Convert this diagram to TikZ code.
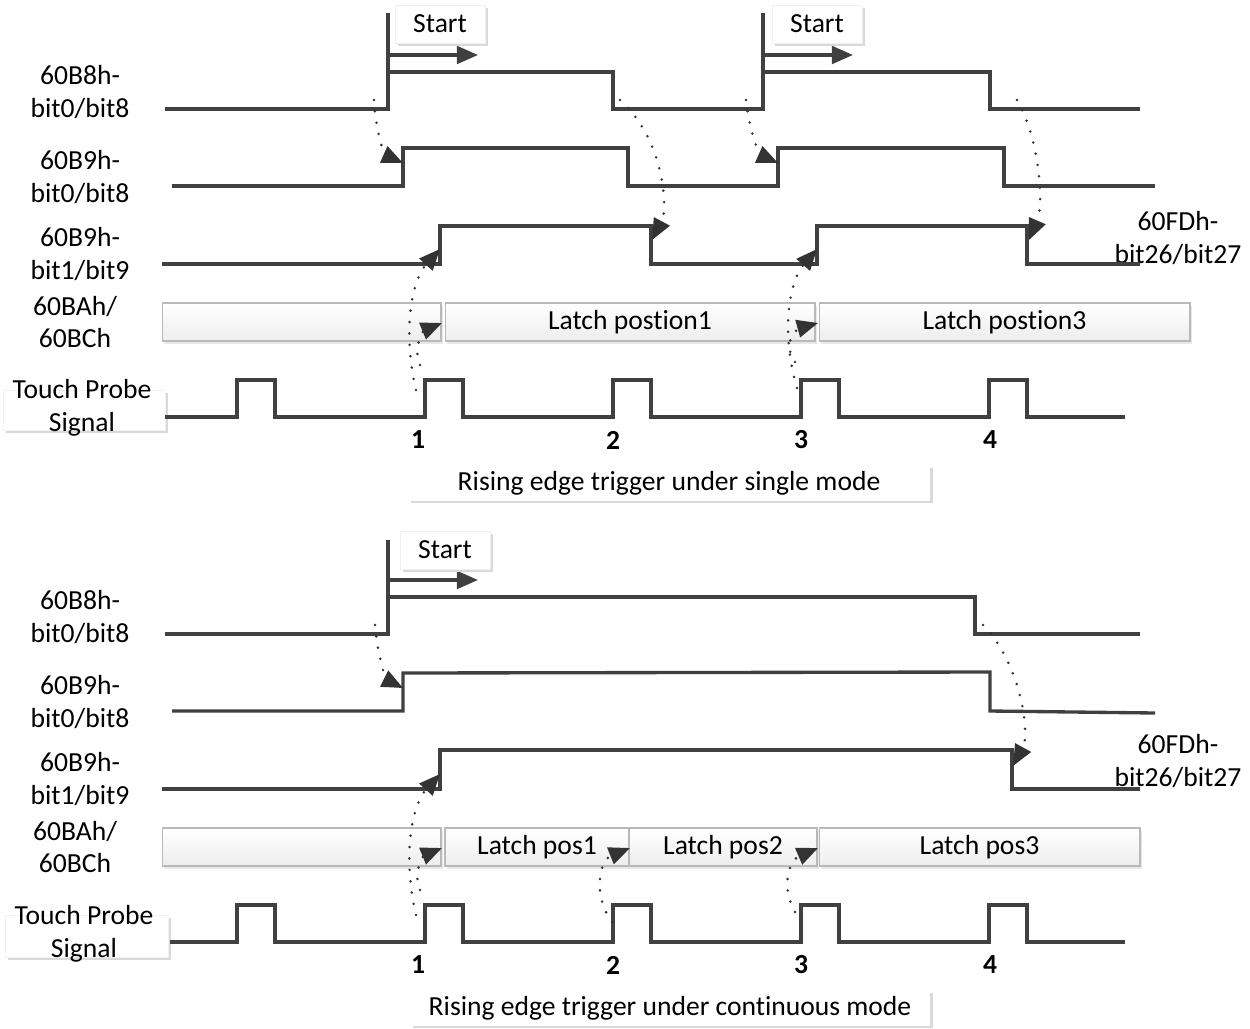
\documentclass[tikz,border=0pt]{standalone}
\usepackage{fontspec}
\setmainfont{Carlito}[Ligatures={NoCommon}]
\usetikzlibrary{arrows.meta,shadows}
\begin{document}
\begin{tikzpicture}[x=0.02cm,y=-0.02cm,
    font=\fontsize{15.7}{18.7}\selectfont,
    wave/.style={draw=black!75,line width=1.9pt},
    startarrow/.style={draw=black!75,line width=1.9pt,-{Triangle[length=12pt,width=10pt]}},
    trig/.style={draw=black!80,line width=1.6pt,line cap=round,dash pattern=on 0pt off 6.5pt,
        -{Triangle[length=12pt,width=10pt,line cap=butt]}},
    sig/.style={align=center,inner sep=0pt},
    tag/.style={fill=white,draw=gray!12,minimum width=1.8cm,minimum height=0.76cm,
        drop shadow={shadow xshift=1.5pt,shadow yshift=-1.5pt,fill=gray!30,opacity=1}},
    latch/.style={draw=gray!55,line width=0.6pt,top color=white,bottom color=gray!14,
        minimum height=0.76cm,inner sep=0pt,outer sep=0pt,
        drop shadow={shadow xshift=1pt,shadow yshift=-1.5pt,fill=gray!18,opacity=1}},
    caption/.style={fill=white,minimum height=0.7cm,
        drop shadow={shadow xshift=1.5pt,shadow yshift=-1.5pt,fill=gray!30,opacity=1}},
    num/.style={font=\fontsize{15.7}{18.7}\selectfont\bfseries}
  ]
\useasboundingbox (0,0) rectangle (1250,1028);

%% single mode
\node[sig] (a1) at (80,92) {60B8h-\\bit0/bit8};
\node[sig] (b1) at (80,177) {60B9h-\\bit0/bit8};
\node[sig] (c1) at (80,254) {60B9h-\\bit1/bit9};
\node[sig] (d1) at (75,322) {60BAh/\\60BCh};
\path[fill=white,draw=gray!10,drop shadow={shadow xshift=1.5pt,shadow yshift=-1.5pt,fill=gray!30,opacity=1}]
  (3,390) rectangle (165,430);
\node[sig] (e1) at (82,408) {Touch Probe\\Signal};
\node[sig] (f1) at (1178,238) {60FDh-\\bit26/bit27};

\draw[wave] (165,109) -- (388,109) -- (388,72) -- (613,72) -- (613,109) -- (763,109)
  -- (763,72) -- (990,72) -- (990,109) -- (1140,109);
\draw[wave] (388,13) -- (388,72) (763,13) -- (763,72);
\draw[startarrow] (388,55) -- (478,55);
\draw[startarrow] (763,55) -- (853,55);
\node[tag] (s1) at (440,24) {Start};
\node[tag] (s2) at (817,24) {Start};

\draw[wave] (172,186) -- (403,186) -- (403,148) -- (628,148) -- (628,186) -- (778,186)
  -- (778,148) -- (1004,148) -- (1004,186) -- (1155,186);
\draw[wave] (162,264) -- (440,264) -- (440,226) -- (651,226) -- (651,264) -- (817,264)
  -- (817,226) -- (1027,226) -- (1027,264) -- (1140,264);

\node[latch,minimum width=5.58cm] (p0) at (301.5,322) {};
\node[latch,minimum width=7.4cm] (p1) at (630,322) {Latch postion1};
\node[latch,minimum width=7.42cm] (p3) at (1004.5,322) {Latch postion3};

\draw[wave] (165,417) \foreach \x in {237,425,613,801,989} {
  -- (\x,417) -- (\x,380) -- (\x+38,380) -- (\x+38,417)} -- (1125,417);
\foreach \x/\n in {418/1,613/2,801/3,990/4}
  \node[num] (n1\n) at (\x,440) {\n};
\node[caption,minimum width=10.44cm] (cap1) at (669,483) {Rising edge trigger under single mode};

% trigger links
\coordinate (u1) at (374,100);  \coordinate (v1) at (403,163);
\coordinate (u2) at (620,100);  \coordinate (v2) at (652,240);
\coordinate (u3) at (746,100);  \coordinate (v3) at (778,163);
\coordinate (u4) at (1017,100); \coordinate (v4) at (1029,240);
\coordinate (u5) at (416,390);  \coordinate (v5) at (440,249);
\coordinate (u6) at (420,365);  \coordinate (v6) at (442,323);
\coordinate (u7) at (797,388);  \coordinate (v7) at (817,249);
\coordinate (u8) at (795,362);  \coordinate (v8) at (818,323);
\draw[trig] (u1) .. controls (376,135) and (385,155) .. (v1);
\draw[trig] (u2) .. controls (665,140) and (668,210) .. (v2);
\draw[trig] (u3) .. controls (750,135) and (760,155) .. (v3);
\draw[trig] (u4) .. controls (1040,140) and (1044,205) .. (v4);
\draw[trig] (u5) .. controls (402,330) and (412,280) .. (v5);
\draw[trig] (u6) .. controls (412,345) and (425,330) .. (v6);
\draw[trig] (u7) .. controls (780,330) and (790,280) .. (v7);
\draw[trig] (u8) .. controls (780,340) and (800,328) .. (v8);

%% continuous mode
\node[sig] (a2) at (80,617) {60B8h-\\bit0/bit8};
\node[sig] (b2) at (80,702) {60B9h-\\bit0/bit8};
\node[sig] (c2) at (80,779) {60B9h-\\bit1/bit9};
\node[sig] (d2) at (75,847) {60BAh/\\60BCh};
\path[fill=white,draw=gray!10,drop shadow={shadow xshift=1.5pt,shadow yshift=-1.5pt,fill=gray!30,opacity=1}]
  (5,915) rectangle (168,957);
\node[sig] (e2) at (84,934) {Touch Probe\\Signal};
\node[sig] (f2) at (1178,761) {60FDh-\\bit26/bit27};

\draw[wave] (165,634) -- (388,634) -- (388,597) -- (975,597) -- (975,634) -- (1140,634);
\draw[wave] (388,540) -- (388,597);
\draw[startarrow] (388,580) -- (478,580);
\node[tag] (s3) at (445,550) {Start};

\draw[wave] (172,711) -- (403,711) -- (403,673) -- (990,672) -- (990,711) -- (1155,713);
\draw[wave] (162,789) -- (440,789) -- (440,750) -- (1012,750) -- (1012,789) -- (1140,789);

\node[latch,minimum width=5.58cm] (q0) at (301.5,847) {};
\node[latch,minimum width=3.68cm] (q1) at (537,847) {Latch pos1};
\node[latch,minimum width=3.76cm] (q2) at (723,847) {Latch pos2};
\node[latch,minimum width=6.42cm] (q3) at (979.5,847) {Latch pos3};

\draw[wave] (170,942) \foreach \x in {237,425,613,801,989} {
  -- (\x,942) -- (\x,905) -- (\x+38,905) -- (\x+38,942)} -- (1125,942);
\foreach \x/\n in {418/1,613/2,801/3,990/4}
  \node[num] (n2\n) at (\x,965) {\n};
\node[caption,minimum width=10.4cm] (cap2) at (670,1008) {Rising edge trigger under continuous mode};

% trigger links
\coordinate (w1) at (375,625);  \coordinate (z1) at (403,688);
\coordinate (w2) at (983,625);  \coordinate (z2) at (1013,766);
\coordinate (w3) at (416,915);  \coordinate (z3) at (440,774);
\coordinate (w4) at (420,890);  \coordinate (z4) at (442,848);
\coordinate (w5) at (612,922);  \coordinate (z5) at (630,848);
\coordinate (w6) at (795,912);  \coordinate (z6) at (818,848);
\draw[trig] (w1) .. controls (378,660) and (387,680) .. (z1);
\draw[trig] (w2) .. controls (1022,665) and (1030,735) .. (z2);
\draw[trig] (w3) .. controls (402,855) and (412,805) .. (z3);
\draw[trig] (w4) .. controls (412,870) and (425,855) .. (z4);
\draw[trig] (w5) .. controls (592,895) and (600,860) .. (z5);
\draw[trig] (w6) .. controls (780,885) and (790,860) .. (z6);
\end{tikzpicture}
\end{document}
